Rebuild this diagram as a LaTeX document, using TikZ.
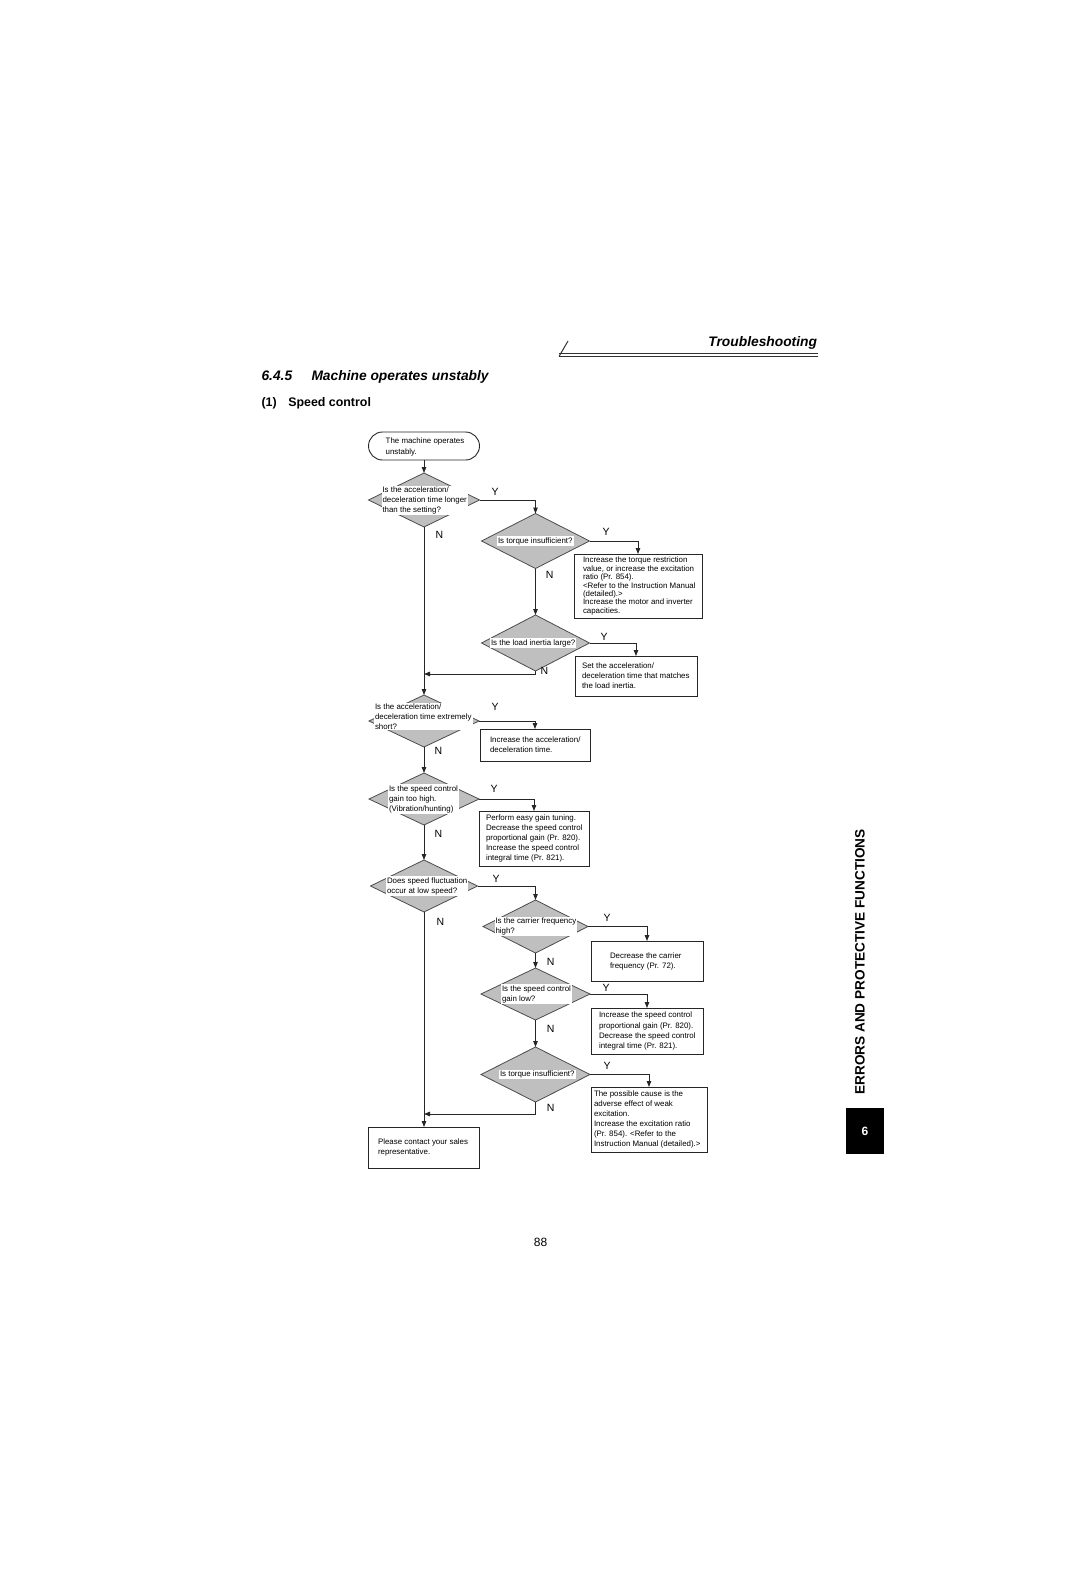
\documentclass[tikz,border=0pt]{standalone}
\usepackage{fontspec}
\setmainfont{Liberation Sans}
\usetikzlibrary{shapes.geometric,arrows.meta}
\begin{document}
\begin{tikzpicture}[x=1pt,y=-1pt,
  every node/.style={inner sep=0pt, outer sep=0pt},
  dia/.style={diamond, draw=black!70, fill=black!25, line width=0.8pt, inner sep=0pt, outer sep=0pt},
  dtxt/.style={fill=white, inner xsep=1pt, inner ysep=1pt, align=left, anchor=west, font=\fontsize{7.9}{10}\selectfont},
  box/.style={draw=black!85, line width=0.9pt, rectangle, inner sep=0pt},
  btxt/.style={align=left, anchor=west, font=\fontsize{7.9}{10.1}\selectfont},
  lbl/.style={font=\fontsize{10.5}{12}\selectfont},
  conn/.style={draw=black!85, line width=0.9pt},
  arr/.style={conn, -{Triangle[length=6pt,width=4.5pt]}},
  hdr/.style={font=\fontsize{13.8}{16}\selectfont\bfseries\itshape},
]
\useasboundingbox[fill=white] (0,0) rectangle (1080,1584);

% header
\draw[line width=1pt, black!80] (559,356.5) -- (568,341);
\draw[line width=1pt, black!80] (559,353.3) -- (818,353.3);
\draw[line width=1pt, black!80] (559,356.5) -- (818,356.5);
\node[hdr, anchor=base east] (trb) at (817,346.5) {Troubleshooting};
\node[hdr, anchor=base west] (secnum) at (261.5,380) {6.4.5};
\node[hdr, anchor=base west] (sectitle) at (311.5,380) {Machine operates unstably};
\node[font=\fontsize{12.4}{14}\selectfont\bfseries, anchor=base west] (subnum) at (261.5,406.5) {(1)};
\node[font=\fontsize{12.4}{14}\selectfont\bfseries, anchor=base west] (subtitle) at (288.3,406.5) {Speed control};

% start
\node[box, rounded corners=14pt, minimum width=111, minimum height=28] (start) at (424,446) {};
\node[btxt] (startt) at (385.7,447) {The machine operates\\unstably.};

% diamonds
\node[dia, minimum width=111, minimum height=54] (d1) at (424,500) {};
\node[dtxt, font=\fontsize{7.9}{9.7}\selectfont] (d1t) at (381.5,500.5) {Is the acceleration/\\deceleration time longer\\than the setting?};

\node[dia, minimum width=108, minimum height=55] (d2) at (535.5,541) {};
\node[dtxt] (d2t) at (497,541) {Is torque insufficient?};

\node[dia, minimum width=108, minimum height=56] (d3) at (535.5,643) {};
\node[dtxt] (d3t) at (490,643) {Is the load inertia large?};

\node[dia, minimum width=110, minimum height=52] (d4) at (424,721) {};
\node[dtxt] (d4t) at (374,716.5) {Is the acceleration/\\deceleration time extremely\\short?};

\node[dia, minimum width=110, minimum height=52] (d5) at (424,799) {};
\node[dtxt] (d5t) at (388,799) {Is the speed control\\gain too high.\\(Vibration/hunting)};

\node[dia, minimum width=107, minimum height=52] (d6) at (424,886) {};
\node[dtxt] (d6t) at (386,886) {Does speed fluctuation\\occur at low speed?};

\node[dia, minimum width=105, minimum height=53] (d7) at (535.5,926.5) {};
\node[dtxt] (d7t) at (494.5,926.5) {Is the carrier frequency\\high?};

\node[dia, minimum width=109, minimum height=52] (d8) at (535.5,994) {};
\node[dtxt] (d8t) at (501,994) {Is the speed control\\gain low?};

\node[dia, minimum width=109, minimum height=55] (d9) at (535.5,1074.5) {};
\node[dtxt] (d9t) at (499,1074.5) {Is torque insufficient?};

% boxes
\node[box, minimum width=128, minimum height=64] (b1) at (638,586) {};
\node[btxt, font=\fontsize{7.9}{8.4}\selectfont] (b1t) at (583,586) {Increase the torque restriction\\value, or increase the excitation\\ratio (Pr. 854).\\<Refer to the Instruction Manual\\(detailed).>\\Increase the motor and inverter\\capacities.};

\node[box, minimum width=122, minimum height=40] (b2) at (636,676) {};
\node[btxt] (b2t) at (582,676) {Set the acceleration/\\deceleration time that matches\\the load inertia.};

\node[box, minimum width=110, minimum height=32] (b3) at (535,745) {};
\node[btxt] (b3t) at (490,745) {Increase the acceleration/\\deceleration time.};

\node[box, minimum width=110, minimum height=55] (b4) at (534,838.5) {};
\node[btxt] (b4t) at (486,838.5) {Perform easy gain tuning.\\Decrease the speed control\\proportional gain (Pr. 820).\\Increase the speed control\\integral time (Pr. 821).};

\node[box, minimum width=112, minimum height=40] (b5) at (647,961) {};
\node[btxt] (b5t) at (610,961) {Decrease the carrier\\frequency (Pr. 72).};

\node[box, minimum width=112, minimum height=46] (b6) at (647,1031) {};
\node[btxt] (b6t) at (599,1031) {Increase the speed control\\proportional gain (Pr. 820).\\Decrease the speed control\\integral time (Pr. 821).};

\node[box, minimum width=116, minimum height=65] (b7) at (649,1119.5) {};
\node[btxt] (b7t) at (594,1119.5) {The possible cause is the\\adverse effect of weak\\excitation.\\Increase the excitation ratio\\(Pr. 854). <Refer to the\\Instruction Manual (detailed).>};

\node[box, minimum width=111, minimum height=41] (b8) at (424,1147.5) {};
\node[btxt] (b8t) at (378,1147.5) {Please contact your sales\\representative.};

% junctions
\coordinate (j1) at (424,674);
\coordinate (j2) at (424,1114);

% connectors (trunk)
\draw[arr] (start.south) -- (d1.north);
\draw[arr] (d1.south) -- (d4.north);
\draw[arr] (d3.south) |- (j1);
\draw[arr] (d4.south) -- (d5.north);
\draw[arr] (d5.south) -- (d6.north);
\draw[arr] (d6.south) -- (b8.north);
\draw[arr] (d9.south) |- (j2);
\draw[arr] (d2.south) -- (d3.north);
\draw[arr] (d7.south) -- (d8.north);
\draw[arr] (d8.south) -- (d9.north);
% yes branches
\draw[arr] (d1.east) -| (d2.north);
\draw[arr] (d2.east) -| (b1.north);
\draw[arr] (d3.east) -| (b2.north);
\draw[arr] (d4.east) -| (b3.north);
\draw[arr] (d5.east) -| (b4.north);
\draw[arr] (d6.east) -| (d7.north);
\draw[arr] (d7.east) -| (b5.north);
\draw[arr] (d8.east) -| (b6.north);
\draw[arr] (d9.east) -| (b7.north);

% labels
\node[lbl] (y1) at (495,492) {Y};
\node[lbl] (n1) at (439.5,534.5) {N};
\node[lbl] (y2) at (606,532) {Y};
\node[lbl] (n2) at (549.6,575) {N};
\node[lbl] (y3) at (604,636.5) {Y};
\node[lbl] (n3) at (544.5,671) {N};
\node[lbl] (y4) at (495,707) {Y};
\node[lbl] (n4) at (438.5,750.6) {N};
\node[lbl] (y5) at (494,789) {Y};
\node[lbl] (n5) at (438.5,833.5) {N};
\node[lbl] (y6) at (496,879) {Y};
\node[lbl] (n6) at (440.5,921.4) {N};
\node[lbl] (y7) at (607,918) {Y};
\node[lbl] (n7) at (550.6,961.8) {N};
\node[lbl] (y8) at (606,988) {Y};
\node[lbl] (n8) at (550.6,1028.5) {N};
\node[lbl] (y9) at (607,1066) {Y};
\node[lbl] (n9) at (550.6,1108.3) {N};

% side tab
\node[rotate=90, font=\fontsize{13.6}{15}\selectfont\bfseries] (side) at (860,962) {ERRORS AND PROTECTIVE FUNCTIONS};
\node[fill=black, minimum width=38, minimum height=46, text=white, font=\fontsize{12}{14}\selectfont\bfseries] (tab) at (865,1131) {6};

% page number
\node[font=\fontsize{12}{14}\selectfont] (pg) at (540.5,1242) {88};
\end{tikzpicture}
\end{document}
